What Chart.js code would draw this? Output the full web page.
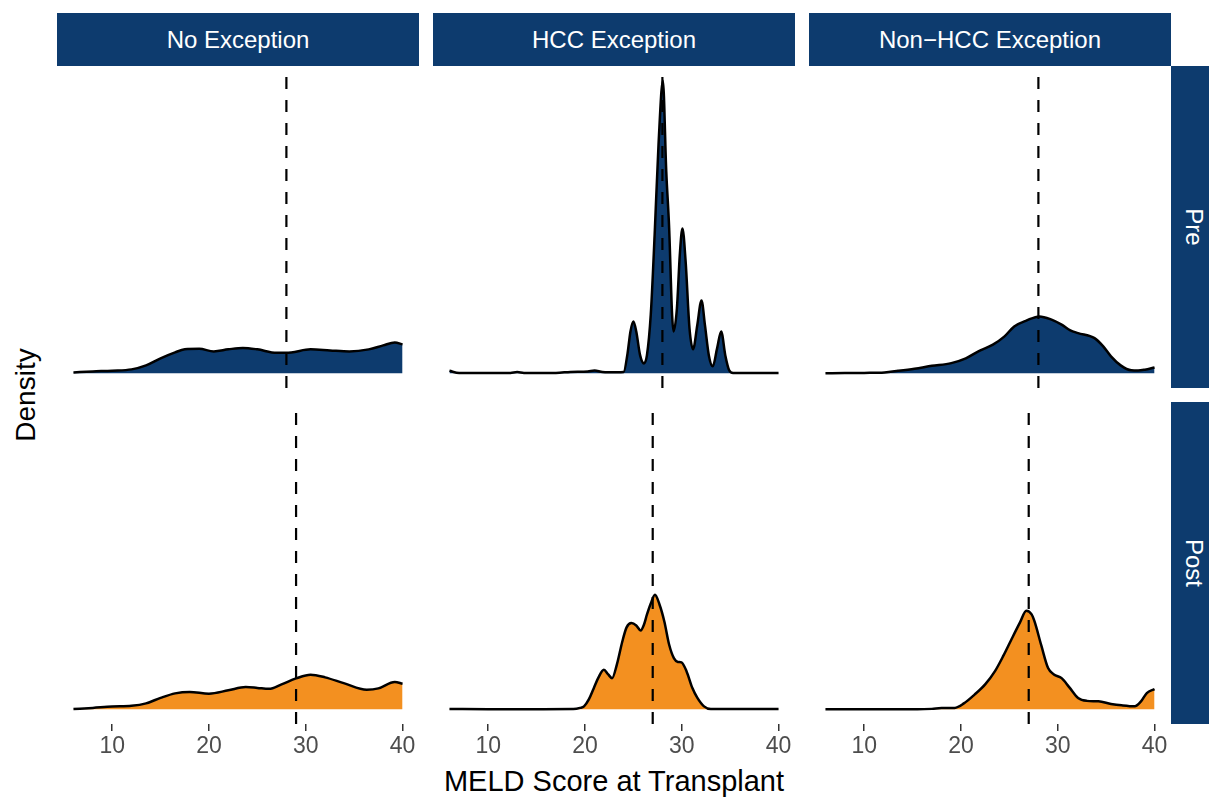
<!DOCTYPE html>
<html>
<head>
<meta charset="utf-8">
<script src="https://cdn.jsdelivr.net/npm/chart.js@4.4.1/dist/chart.umd.min.js"></script>
<style>
  body { margin: 0; background: #fff; font-family: "Liberation Sans", Arial, sans-serif; }
  #wrap { position: relative; width: 1209px; height: 797px; overflow: hidden; }
  .strip { position: absolute; background: #0d3b6e; color: #fff; font-size: 24px;
           display: flex; align-items: center; justify-content: center; }
  .rstrip span { transform: rotate(90deg); white-space: nowrap; }
  canvas { position: absolute; }
  .title { position: absolute; color: #000; white-space: nowrap; }
</style>
</head>
<body>
<div id="wrap">
  <div class="strip" style="left:57px;top:13px;width:362px;height:53px">No Exception</div>
  <div class="strip" style="left:433px;top:13px;width:362px;height:53px">HCC Exception</div>
  <div class="strip" style="left:809px;top:13px;width:362px;height:53px">Non−HCC Exception</div>
  <div class="strip rstrip" style="left:1171px;top:66px;width:46px;height:322px"><span>Pre</span></div>
  <div class="strip rstrip" style="left:1171px;top:402px;width:46px;height:322px"><span>Post</span></div>

  <canvas id="c_no_pre" width="362" height="322" style="left:57px;top:66px"></canvas>
  <canvas id="c_hcc_pre" width="362" height="322" style="left:433px;top:66px"></canvas>
  <canvas id="c_nc_pre" width="362" height="322" style="left:809px;top:66px"></canvas>
  <canvas id="c_no_post" width="362" height="362" style="left:57px;top:402px"></canvas>
  <canvas id="c_hcc_post" width="362" height="362" style="left:433px;top:402px"></canvas>
  <canvas id="c_nc_post" width="362" height="362" style="left:809px;top:402px"></canvas>

  <div class="title" style="left:0;top:395px;width:0;height:0">
    <div style="position:absolute;font-size:28px;transform:translate(-50%,-50%) rotate(-90deg);left:26px;top:0">Density</div>
  </div>
  <div class="title" style="left:414px;width:400px;top:765px;text-align:center;font-size:29px">MELD Score at Transplant</div>
</div>

<script>
// MELD score grid points and density values
const noPreX = [6, 8, 10, 12, 13.5, 15, 16.5, 17.5, 19, 20.5, 22, 23.5, 25, 27, 28.5, 30.5, 32.5, 34.5, 36.5, 38, 39.2, 40];
const noPreY = [0.0010, 0.0020, 0.0028, 0.0041, 0.0082, 0.0154, 0.0215, 0.0246, 0.0251, 0.0225, 0.0246, 0.0261, 0.0246, 0.0210, 0.0215, 0.0246, 0.0235, 0.0225, 0.0246, 0.0287, 0.0317, 0.0297];

const noPostX = [6, 8, 10, 12, 13.5, 15, 16.5, 18, 20, 22, 23.8, 25, 26.2, 27.5, 29, 30.5, 32, 34, 36.3, 37.5, 39.2, 40];
const noPostY = [0.0003, 0.0015, 0.0029, 0.0036, 0.0061, 0.0118, 0.0164, 0.0179, 0.0161, 0.0195, 0.0228, 0.0220, 0.0210, 0.0256, 0.0317, 0.0355, 0.0328, 0.0266, 0.0202, 0.0215, 0.0280, 0.0263];

const hccPreX = [6, 7, 10, 12.3, 13, 13.7, 17, 18.5, 20.3, 21, 21.8, 23.3, 24, 24.4, 24.7, 25, 25.3, 25.7, 26.1, 26.4, 26.8, 27.2, 27.6, 28.05, 28.4, 28.7, 29, 29.15, 29.5, 29.8, 30.07, 30.4, 30.8, 31.17, 31.6, 32.04, 32.4, 32.8, 33.2, 33.65, 34.07, 34.5, 34.9, 35.3, 37, 40];
const hccPreY = [0.0026, 0.0003, 0.0003, 0.0005, 0.0013, 0.0005, 0.0005, 0.0015, 0.0020, 0.0029, 0.0015, 0.0012, 0.0015, 0.0205, 0.0430, 0.0532, 0.0430, 0.0184, 0.0102, 0.0184, 0.0604, 0.1423, 0.2345, 0.3000, 0.2068, 0.1485, 0.0604, 0.0430, 0.0666, 0.1218, 0.1485, 0.1147, 0.0461, 0.0246, 0.0491, 0.0747, 0.0491, 0.0184, 0.0072, 0.0256, 0.0430, 0.0184, 0.0031, 0.0003, 0.0003, 0.0003];

const hccPostX = [6, 10, 15, 18.8, 19.5, 19.9, 20.4, 20.9, 21.4, 21.95, 22.4, 22.8, 23.3, 23.86, 24.3, 24.8, 25.3, 25.75, 26.1, 26.4, 26.8, 27.23, 27.7, 28.2, 28.7, 29.2, 29.6, 29.97, 30.5, 31.1, 31.6, 32.3, 33, 40];
const hccPostY = [0.0003, 0.0002, 0.0002, 0.0003, 0.0015, 0.0031, 0.0102, 0.0215, 0.0328, 0.0406, 0.0358, 0.0320, 0.0461, 0.0696, 0.0840, 0.0884, 0.0860, 0.0809, 0.0870, 0.0970, 0.1085, 0.1174, 0.1075, 0.0901, 0.0662, 0.0522, 0.0486, 0.0481, 0.0389, 0.0218, 0.0120, 0.0031, 0.0003, 0.0003];

const ncPreX = [6, 8, 10, 12.1, 13.5, 15.2, 17, 19, 20.5, 21.8, 23.3, 24.5, 25.5, 26.8, 28.1, 29.3, 30.4, 31.3, 32.1, 33.8, 34.7, 35.5, 36.5, 37.6, 38.3, 39, 40];
const ncPreY = [0.0000, 0.0003, 0.0005, 0.0010, 0.0026, 0.0048, 0.0077, 0.0105, 0.0154, 0.0225, 0.0294, 0.0379, 0.0481, 0.0543, 0.0584, 0.0553, 0.0499, 0.0440, 0.0413, 0.0361, 0.0276, 0.0174, 0.0082, 0.0031, 0.0029, 0.0038, 0.0061];

const ncPostX = [6, 12, 15.5, 17, 18, 19.35, 20.3, 21.4, 22.5, 23.5, 24.4, 25.2, 26.1, 26.75, 27.3, 27.6, 28.3, 29, 29.6, 30.4, 31.2, 32.1, 33, 34.2, 35.5, 36.6, 37.95, 38.6, 39.2, 40];
const ncPostY = [0, 0, 0, 0.0005, 0.0013, 0.0015, 0.0061, 0.0151, 0.0256, 0.0389, 0.0553, 0.0714, 0.0891, 0.1011, 0.0973, 0.0901, 0.0655, 0.0423, 0.0358, 0.0320, 0.0225, 0.0116, 0.0087, 0.0082, 0.0056, 0.0041, 0.0031, 0.0082, 0.0167, 0.0208];

// median MELD per panel (dashed lines)
const medianPre = [28, 28, 28];
const medianPost = [29, 27, 27];

const xTicks = [10, 20, 30, 40];

const preColor = '#0d3b6e';
const postColor = '#f39020';
const X_MIN = 4.3, X_MAX = 41.7;
const Y_MIN = -0.015, Y_MAX = 0.315;

function makePanel(id, xs, ys, median, color, showAxis) {
  const pts = xs.map((x, i) => ({ x: x, y: ys[i] }));
  const xScale = {
    type: 'linear',
    min: X_MIN,
    max: X_MAX,
    display: showAxis,
    afterBuildTicks: axis => { axis.ticks = xTicks.map(v => ({ value: v })); },
    border: { display: false },
    grid: { drawOnChartArea: false, drawTicks: true, tickLength: 7, color: '#333333', lineWidth: 1.5 },
    ticks: {
      color: '#4d4d4d',
      font: { size: 23, family: '"Liberation Sans", Arial, sans-serif' },
      padding: 2,
      maxRotation: 0,
      autoSkip: false
    }
  };
  if (showAxis) xScale.afterFit = axis => { axis.height = 40; };

  new Chart(document.getElementById(id), {
    type: 'line',
    data: {
      datasets: [
        {
          data: [{ x: median, y: Y_MIN }, { x: median, y: Y_MAX }],
          borderColor: '#000',
          borderWidth: 2.2,
          borderDash: [12, 11],
          pointRadius: 0,
          fill: false,
          order: 0
        },
        {
          data: pts,
          borderColor: '#000',
          borderWidth: 2.5,
          backgroundColor: color,
          fill: 'origin',
          pointRadius: 0,
          cubicInterpolationMode: 'monotone',
          order: 1
        }
      ]
    },
    options: {
      responsive: false,
      animation: false,
      layout: { padding: 0 },
      plugins: { legend: { display: false }, tooltip: { enabled: false } },
      scales: {
        x: xScale,
        y: { type: 'linear', min: Y_MIN, max: Y_MAX, display: false }
      }
    }
  });
}

makePanel('c_no_pre', noPreX, noPreY, medianPre[0], preColor, false);
makePanel('c_hcc_pre', hccPreX, hccPreY, medianPre[1], preColor, false);
makePanel('c_nc_pre', ncPreX, ncPreY, medianPre[2], preColor, false);
makePanel('c_no_post', noPostX, noPostY, medianPost[0], postColor, true);
makePanel('c_hcc_post', hccPostX, hccPostY, medianPost[1], postColor, true);
makePanel('c_nc_post', ncPostX, ncPostY, medianPost[2], postColor, true);
</script>
</body>
</html>
